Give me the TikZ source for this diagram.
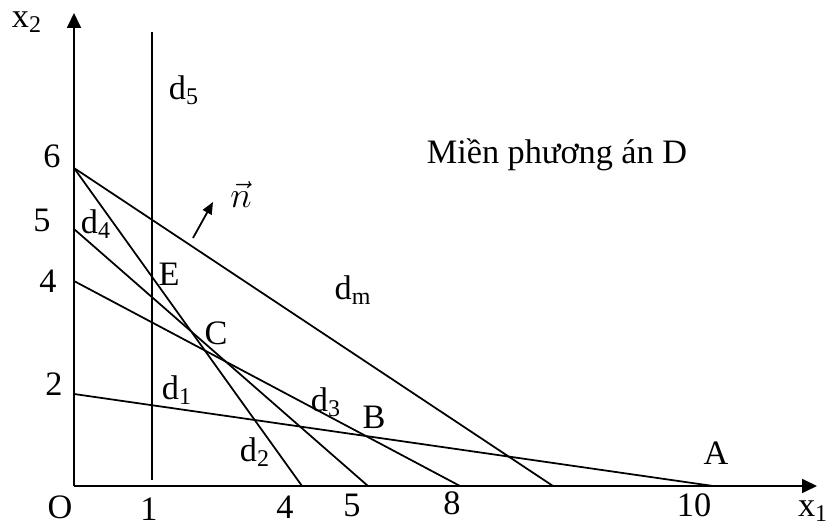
\documentclass[tikz,border=0pt]{standalone}
\usepackage{fontspec}
\setmainfont{Liberation Serif}
\usetikzlibrary{arrows.meta}

\begin{document}
\begin{tikzpicture}[
		line width=1pt,
		% Estilos
		axis/.style={draw, -{Triangle[length=0.3cm, width=0.28cm]}},
		line/.style={draw},
		lbl/.style={inner sep=0pt, font=\fontsize{19.5}{23}\selectfont}
		]
		\useasboundingbox (-1.48,-0.82) rectangle (15.28,9.72);
		
		% --- PUNTOS ---
		\coordinate (origin) at (0,0);
		\coordinate (xend) at (14.86,0);
		\coordinate (yend) at (0,9.46);
		
		% Cortes con el eje x2
		\coordinate (y6) at (0,6.36);
		\coordinate (y5) at (0,5.14);
		\coordinate (y4) at (0,4.10);
		\coordinate (y2) at (0,1.84);
		
		% Cortes con el eje x1
		\coordinate (x4) at (4.56,0);
		\coordinate (x5) at (5.88,0);
		\coordinate (x8) at (7.72,0);
		\coordinate (xm) at (9.58,0);
		\coordinate (x10) at (12.78,0);
		
		% Recta x1 = 1
		\coordinate (d5top) at (1.56,9.08);
		\coordinate (d5bot) at (1.56,0.12);
		
		% --- EJES ---
		\draw [axis] (origin) -- (xend);
		\draw [axis] (origin) -- (yend);
		
		% --- RECTAS ---
		\draw [line] (d5top) -- (d5bot);
		\draw [line] (y6) -- (xm);
		\draw [line] (y6) -- (x4);
		\draw [line] (y5) -- (x5);
		\draw [line] (y4) -- (x8);
		\draw [line] (y2) -- (x10);
		
		% Vector normal
		\coordinate (nfrom) at (2.38,4.96);
		\coordinate (nto) at (2.78,5.68);
		\draw [-{Triangle[length=0.24cm, width=0.2cm]}] (nfrom) -- (nto);
		
		% --- ETIQUETAS ---
		\node [lbl] (lblx2) at (-0.94,9.28) {x\textsubscript{2}};
		\node [lbl] (lblx1) at (14.78,-0.50) {x\textsubscript{1}};
		\node [lbl] (lblO) at (-0.28,-0.42) {O};
		
		\node [lbl] (lbl6) at (-0.44,6.60) {6};
		\node [lbl] (lbl5) at (-0.64,5.32) {5};
		\node [lbl] (lbl4) at (-0.52,4.10) {4};
		\node [lbl] (lbl2) at (-0.40,2.04) {2};
		
		\node [lbl] (lbl1) at (1.50,-0.46) {1};
		\node [lbl] (lblx4) at (4.22,-0.42) {4};
		\node [lbl] (lblx5) at (5.56,-0.38) {5};
		\node [lbl] (lblx8) at (7.56,-0.34) {8};
		\node [lbl] (lblx10) at (12.40,-0.38) {10};
		
		\node [lbl] (lblA) at (12.84,0.66) {A};
		\node [lbl] (lblB) at (6.00,1.38) {B};
		\node [lbl] (lblC) at (2.84,3.06) {C};
		\node [lbl] (lblE) at (1.90,4.24) {E};
		
		\node [lbl] (lbld1) at (2.06,1.92) {d\textsubscript{1}};
		\node [lbl] (lbld2) at (3.62,0.68) {d\textsubscript{2}};
		\node [lbl] (lbld3) at (5.04,1.68) {d\textsubscript{3}};
		\node [lbl] (lbld4) at (0.44,5.24) {d\textsubscript{4}};
		\node [lbl] (lbld5) at (2.20,7.92) {d\textsubscript{5}};
		\node [lbl] (lbldm) at (5.58,3.92) {d\textsubscript{m}};
		
		\node [lbl] (lbln) at (3.34,5.82) {$\vec{n}$};
		\node [lbl] (lblD) at (9.66,6.62) {Miền phương án D};
		
	\end{tikzpicture}
\end{document}
